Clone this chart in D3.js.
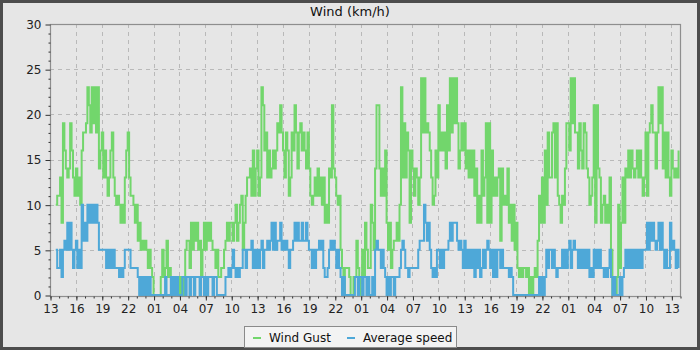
<!DOCTYPE html>
<html>
<head>
<meta charset="utf-8">
<script src="https://cdn.jsdelivr.net/npm/d3@7"></script>
<style>
  html, body { margin: 0; padding: 0; background: #e6e6e6; }
  svg { display: block; font-family: "DejaVu Sans", sans-serif; }
</style>
</head>
<body>
<svg id="chart" width="700" height="350"></svg>
<script>
// ---- data (10-minute samples, first sample at 13:40 of day 1) ----
const chartTitle = "Wind (km/h)";
const seriesNames = ["Wind Gust", "Average speed"];
const firstSample = new Date(2024, 5, 10, 13, 40);
const sampleMinutes = 10;
const yTicks = [0, 5, 10, 15, 20, 25, 30];
const xTickLabels = ["13","16","19","22","01","04","07","10","13","16","19","22","01",
                     "04","07","10","13","16","19","22","01","04","07","10","13"];

const windGust = [10,11,
  11,13,8,19,16,14,   13,14,19,16,13,11,  14,11,13,10,16,18,  18,19,23,21,18,23,
  19,23,18,23,14,16,  18,13,16,13,11,13,  16,18,13,11,10,11,  10,8,10,8,13,16,
  18,13,11,11,10,8,   10,6,8,5,6,5,       6,5,3,5,3,2,        0,0,0,0,0,2,
  5,2,3,6,2,3,        2,0,2,0,2,0,        2,0,2,0,5,6,        6,3,8,5,8,6,
  8,5,6,2,5,8,        5,8,6,8,6,5,        5,3,5,2,2,3,        3,5,6,8,6,8,
  8,6,8,10,6,8,       10,11,5,8,11,13,    13,14,11,16,11,14,  16,11,13,23,21,16,
  18,13,16,13,14,16,  14,16,19,18,21,18,  16,13,18,16,11,13,  18,16,21,18,14,18,
  19,16,18,16,14,18,  14,11,10,11,13,11,  14,11,13,10,13,8,   10,8,14,13,21,14,
  13,11,10,11,5,3,    0,3,3,3,2,0,        0,2,2,6,3,0,        2,5,2,8,5,3,
  3,10,8,5,14,21,     21,14,11,14,11,16,  8,5,8,3,5,6,        6,8,6,10,23,13,
  19,13,18,16,8,16,   14,11,14,13,10,13,  24,18,24,18,19,18,  16,13,10,11,16,13,
  21,16,18,16,18,14,  21,16,24,18,24,19,  24,19,14,16,19,16,  19,14,16,13,16,13,
  16,11,14,8,11,8,    16,11,13,19,8,19,   8,16,11,13,11,13,   14,6,14,10,11,10,
  14,8,10,6,10,5,     8,3,2,3,2,3,        3,2,3,0,2,0,        2,3,2,6,11,8,
  13,8,16,10,18,13,   13,18,19,13,19,11,  10,8,11,10,14,19,   19,16,24,19,24,18,
  18,14,19,16,14,19,  18,14,13,10,11,13,  21,8,21,14,13,8,    10,11,8,10,8,13,
  5,0,2,0,2,10,       3,8,13,8,14,13,     16,13,16,14,13,14,  16,13,16,13,11,13,
  18,11,18,19,21,18,  18,14,18,23,19,23,  14,18,13,18,13,11,  16,14,13,14,13,16];

const avgSpeed = [5,3,
  3,5,2,5,6,5,   8,5,8,5,3,5,   6,3,5,3,10,6,  8,6,10,8,10,8,
  10,8,10,8,5,5, 5,5,5,3,5,3,   5,3,5,3,3,3,   2,3,2,3,5,5,
  5,5,3,3,3,3,   3,2,0,2,0,2,   0,2,0,2,0,0,   0,0,0,0,0,0,
  0,0,2,0,0,0,   2,0,2,0,2,0,   0,0,2,2,0,2,   2,0,2,2,0,2,
  2,2,0,2,2,0,   2,0,2,2,2,0,   2,2,0,0,0,0,   0,0,2,2,3,2,
  3,5,3,2,3,2,   3,3,5,5,3,5,   5,5,6,3,5,3,   5,3,5,6,3,5,
  5,6,5,6,8,5,   8,5,6,6,8,5,   6,5,6,5,3,5,   5,6,8,6,8,6,
  6,8,6,6,8,6,   5,5,3,5,3,5,   5,6,5,6,3,2,   2,3,5,6,5,6,
  5,3,5,3,2,0,   2,0,0,0,0,0,   0,0,2,2,0,2,   2,0,2,2,0,2,
  0,0,2,0,5,6,   5,5,3,5,3,2,   0,2,0,2,2,0,   2,2,2,3,5,6,
  5,3,3,2,3,3,   3,3,3,3,5,6,   6,6,10,8,6,8,  5,3,2,3,2,5,
  5,3,5,3,5,5,   5,6,8,6,8,8,   8,6,5,6,5,3,   6,3,5,3,5,3,
  5,2,5,3,5,2,   3,5,3,5,6,5,   3,5,2,5,2,5,   5,3,5,3,3,3,
  3,2,3,2,0,0,   0,0,0,0,0,0,   0,0,0,0,0,0,   0,0,0,0,2,0,
  2,0,2,5,3,5,   5,3,5,3,2,3,   3,3,5,3,5,3,   5,6,3,5,6,5,
  5,3,5,3,5,3,   5,3,5,2,3,2,   5,3,5,3,5,3,   3,2,3,2,3,5,
  2,0,2,0,0,0,   2,0,2,3,5,3,   5,3,5,3,5,3,   5,3,5,3,5,5,
  5,8,5,8,6,8,   6,5,6,8,5,8,   5,3,5,3,3,8,   5,6,5,3,5,3];

// ---- layout ----
const W = 700, H = 350;
const plot = { left: 50, right: 680, top: 24, bottom: 295 };
const colors = { gust: "#72d66c", avg: "#4ea8d8", grid: "#b9b9b9", frame: "#8e8e8e" };

const svg = d3.select("#chart");

svg.append("rect").attr("x", 1.5).attr("y", 1.5).attr("width", W - 3).attr("height", H - 3)
  .attr("fill", "#e6e6e6").attr("stroke", "#4d4d4d").attr("stroke-width", 3);

const xStart = new Date(2024, 5, 10, 13, 0);
const xEnd = d3.timeHour.offset(xStart, 73);
const x = d3.scaleTime().domain([xStart, xEnd]).range([plot.left, plot.right]);
const y = d3.scaleLinear().domain([0, 30]).range([plot.bottom, plot.top]);

const toPoints = arr => arr.map((v, i) => ({ t: d3.timeMinute.offset(firstSample, i * sampleMinutes), v }));

const majorX = xTickLabels.map((lab, k) => d3.timeHour.offset(xStart, 3 * k));
const minorX = d3.range(0, 74).map(k => d3.timeHour.offset(xStart, k));

// grid
svg.append("g").selectAll("line").data(majorX.filter(d => x(d) > plot.left + 1))
  .join("line")
  .attr("x1", d => Math.round(x(d)) + 0.5).attr("x2", d => Math.round(x(d)) + 0.5)
  .attr("y1", plot.top).attr("y2", plot.bottom + 1)
  .attr("stroke", colors.grid).attr("stroke-dasharray", "4,4");
svg.append("g").selectAll("line").data(yTicks.filter(v => v > 0 && v < 30))
  .join("line")
  .attr("x1", plot.left).attr("x2", plot.right)
  .attr("y1", d => Math.round(y(d)) + 0.5).attr("y2", d => Math.round(y(d)) + 0.5)
  .attr("stroke", colors.grid).attr("stroke-dasharray", "4,4");

// series
const line = d3.line().x(d => x(d.t)).y(d => y(d.v)).curve(d3.curveStepAfter);
svg.append("path").datum(toPoints(windGust)).attr("d", line)
  .attr("fill", "none").attr("stroke", colors.gust).attr("stroke-width", 2);
svg.append("path").datum(toPoints(avgSpeed)).attr("d", line)
  .attr("fill", "none").attr("stroke", colors.avg).attr("stroke-width", 2);

// frame
svg.append("rect").attr("x", plot.left + 0.5).attr("y", plot.top + 0.5)
  .attr("width", plot.right - plot.left).attr("height", plot.bottom - plot.top + 1)
  .attr("fill", "none").attr("stroke", colors.frame).attr("stroke-width", 1.2);

// y axis
const yAxis = d3.axisLeft(y).tickValues(yTicks).tickSize(5).tickPadding(4).tickFormat(d3.format("d"));
const gy = svg.append("g").attr("transform", `translate(${plot.left + 0.5},0.5)`).call(yAxis);
gy.select(".domain").remove();
gy.selectAll(".tick line").attr("stroke", "#333");
gy.selectAll("text").attr("font-size", 12).attr("fill", "#222").attr("font-family", "DejaVu Sans");
const yMinor = d3.range(0, 31).filter(v => v % 5 !== 0);
const gyMinor = svg.append("g").attr("transform", `translate(${plot.left + 0.5},0.5)`)
  .call(d3.axisLeft(y).tickValues(yMinor).tickSize(2).tickFormat(""));
gyMinor.select(".domain").remove();
gyMinor.selectAll(".tick line").attr("stroke", "#333");

// x axis
const xAxis = d3.axisBottom(x).tickValues(majorX).tickSize(4).tickPadding(4)
  .tickFormat((d, i) => xTickLabels[i]);
const gx = svg.append("g").attr("transform", `translate(0.5,${plot.bottom + 1.5})`).call(xAxis);
gx.select(".domain").remove();
gx.selectAll(".tick line").attr("stroke", "#333");
gx.selectAll("text").attr("font-size", 12).attr("fill", "#222").attr("font-family", "DejaVu Sans");
const gxMinor = svg.append("g").attr("transform", `translate(0.5,${plot.bottom + 1.5})`)
  .call(d3.axisBottom(x).tickValues(minorX).tickSize(2).tickFormat(""));
gxMinor.select(".domain").remove();
gxMinor.selectAll(".tick line").attr("stroke", "#333");

// title
svg.append("text").attr("x", 350).attr("y", 16).attr("text-anchor", "middle")
  .attr("font-size", 13).attr("fill", "#111").text(chartTitle);

// legend
const lg = svg.append("g");
lg.append("rect").attr("x", 244.5).attr("y", 326.5).attr("width", 212).attr("height", 21)
  .attr("fill", "#f3f3f3").attr("stroke", "#8a8a8a");
const items = [
  { name: seriesNames[0], color: colors.gust, x: 253 },
  { name: seriesNames[1], color: colors.avg, x: 347 }
];
items.forEach(it => {
  lg.append("line").attr("x1", it.x).attr("x2", it.x + 8).attr("y1", 338).attr("y2", 338)
    .attr("stroke", it.color).attr("stroke-width", 2);
  lg.append("text").attr("x", it.x + 16).attr("y", 341.5).attr("font-size", 12)
    .attr("fill", "#111").text(it.name);
});
</script>
</body>
</html>
